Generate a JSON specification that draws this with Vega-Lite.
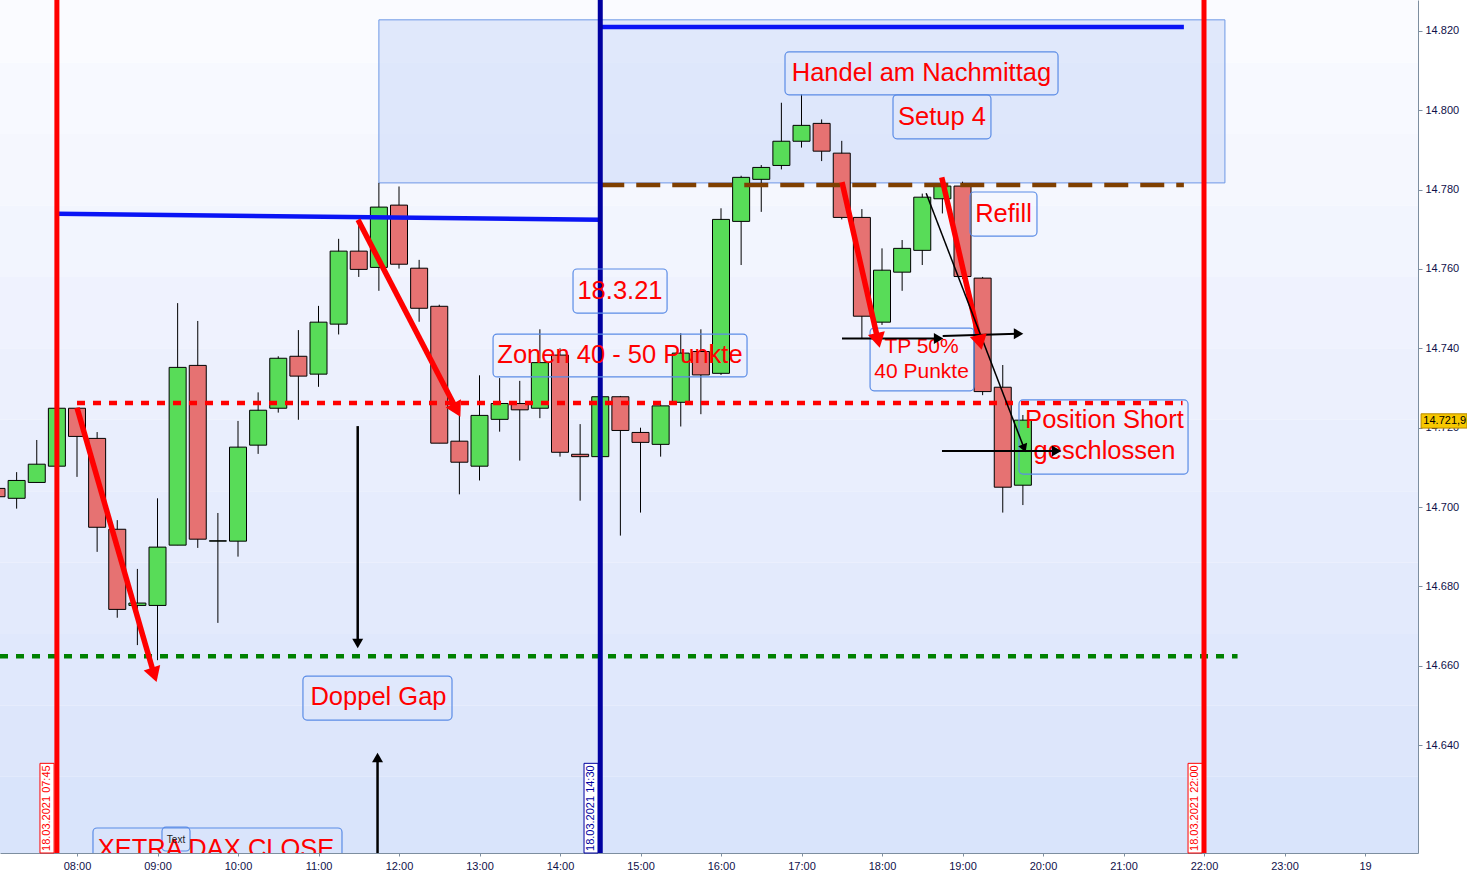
{
  "$schema": "https://vega.github.io/schema/vega-lite/v6.json",
  "width": 1418,
  "height": 853,
  "autosize": {"type": "none"},
  "padding": {"left": 0, "top": 0, "right": 49, "bottom": 27},
  "background": "white",
  "config": {"font": "Liberation Sans", "view": {"stroke": null}},
  "datasets": {
    "candles": [
      {"t": "2021-03-18T07:00:00", "o": 14704.7, "h": 14705.0, "l": 14702.4, "c": 14702.6},
      {"t": "2021-03-18T07:15:00", "o": 14702.2, "h": 14708.8, "l": 14699.6, "c": 14706.7},
      {"t": "2021-03-18T07:30:00", "o": 14706.2, "h": 14716.9, "l": 14706.2, "c": 14710.8},
      {"t": "2021-03-18T07:45:00", "o": 14710.3, "h": 14725.0, "l": 14710.0, "c": 14724.9},
      {"t": "2021-03-18T08:00:00", "o": 14724.9, "h": 14725.0, "l": 14707.6, "c": 14717.8},
      {"t": "2021-03-18T08:15:00", "o": 14717.3, "h": 14718.9, "l": 14688.7, "c": 14694.9},
      {"t": "2021-03-18T08:30:00", "o": 14694.4, "h": 14696.7, "l": 14672.1, "c": 14674.2},
      {"t": "2021-03-18T08:45:00", "o": 14675.2, "h": 14684.4, "l": 14665.2, "c": 14675.8},
      {"t": "2021-03-18T09:00:00", "o": 14675.2, "h": 14702.2, "l": 14661.4, "c": 14689.9},
      {"t": "2021-03-18T09:15:00", "o": 14690.4, "h": 14751.4, "l": 14690.4, "c": 14735.2},
      {"t": "2021-03-18T09:30:00", "o": 14735.7, "h": 14746.9, "l": 14689.7, "c": 14691.9},
      {"t": "2021-03-18T09:45:00", "o": 14691.4, "h": 14698.5, "l": 14670.8, "c": 14691.5},
      {"t": "2021-03-18T10:00:00", "o": 14691.4, "h": 14721.7, "l": 14687.5, "c": 14715.1},
      {"t": "2021-03-18T10:15:00", "o": 14715.6, "h": 14728.9, "l": 14713.4, "c": 14724.4},
      {"t": "2021-03-18T10:30:00", "o": 14724.9, "h": 14738.0, "l": 14723.8, "c": 14737.5},
      {"t": "2021-03-18T10:45:00", "o": 14738.0, "h": 14744.6, "l": 14722.0, "c": 14733.0},
      {"t": "2021-03-18T11:00:00", "o": 14733.5, "h": 14750.7, "l": 14730.3, "c": 14746.6},
      {"t": "2021-03-18T11:15:00", "o": 14746.1, "h": 14767.6, "l": 14743.5, "c": 14764.5},
      {"t": "2021-03-18T11:30:00", "o": 14764.5, "h": 14772.4, "l": 14758.0, "c": 14759.9},
      {"t": "2021-03-18T11:45:00", "o": 14760.4, "h": 14781.7, "l": 14754.5, "c": 14775.6},
      {"t": "2021-03-18T12:00:00", "o": 14776.1, "h": 14780.8, "l": 14760.1, "c": 14761.2},
      {"t": "2021-03-18T12:15:00", "o": 14760.2, "h": 14762.3, "l": 14746.7, "c": 14750.1},
      {"t": "2021-03-18T12:30:00", "o": 14750.6, "h": 14751.0, "l": 14716.1, "c": 14716.1},
      {"t": "2021-03-18T12:45:00", "o": 14716.6, "h": 14723.2, "l": 14703.2, "c": 14711.3},
      {"t": "2021-03-18T13:00:00", "o": 14710.3, "h": 14733.2, "l": 14706.7, "c": 14723.1},
      {"t": "2021-03-18T13:15:00", "o": 14722.1, "h": 14732.5, "l": 14719.0, "c": 14726.1},
      {"t": "2021-03-18T13:30:00", "o": 14726.1, "h": 14731.8, "l": 14711.7, "c": 14724.5},
      {"t": "2021-03-18T13:45:00", "o": 14724.9, "h": 14744.8, "l": 14722.4, "c": 14736.4},
      {"t": "2021-03-18T14:00:00", "o": 14738.3, "h": 14740.0, "l": 14712.7, "c": 14713.8},
      {"t": "2021-03-18T14:15:00", "o": 14713.3, "h": 14720.9, "l": 14701.6, "c": 14712.7},
      {"t": "2021-03-18T14:30:00", "o": 14712.7, "h": 14729.0, "l": 14711.0, "c": 14727.8},
      {"t": "2021-03-18T14:45:00", "o": 14727.8, "h": 14728.0, "l": 14692.8, "c": 14719.3},
      {"t": "2021-03-18T15:00:00", "o": 14718.8, "h": 14720.0, "l": 14698.6, "c": 14716.3},
      {"t": "2021-03-18T15:15:00", "o": 14715.8, "h": 14726.0, "l": 14712.7, "c": 14725.5},
      {"t": "2021-03-18T15:30:00", "o": 14726.4, "h": 14743.8, "l": 14720.3, "c": 14738.8},
      {"t": "2021-03-18T15:45:00", "o": 14739.2, "h": 14744.8, "l": 14723.4, "c": 14733.3},
      {"t": "2021-03-18T16:00:00", "o": 14733.7, "h": 14775.3, "l": 14733.3, "c": 14772.5},
      {"t": "2021-03-18T16:15:00", "o": 14772.0, "h": 14783.5, "l": 14761.0, "c": 14783.1},
      {"t": "2021-03-18T16:30:00", "o": 14782.6, "h": 14786.2, "l": 14774.4, "c": 14785.6},
      {"t": "2021-03-18T16:45:00", "o": 14786.1, "h": 14801.9, "l": 14785.1, "c": 14792.2},
      {"t": "2021-03-18T17:00:00", "o": 14792.2, "h": 14804.0, "l": 14790.6, "c": 14796.2},
      {"t": "2021-03-18T17:15:00", "o": 14796.7, "h": 14797.7, "l": 14787.2, "c": 14789.7},
      {"t": "2021-03-18T17:30:00", "o": 14789.2, "h": 14792.3, "l": 14772.5, "c": 14773.0},
      {"t": "2021-03-18T17:45:00", "o": 14773.0, "h": 14775.1, "l": 14742.5, "c": 14748.1},
      {"t": "2021-03-18T18:00:00", "o": 14746.6, "h": 14765.2, "l": 14745.9, "c": 14759.7},
      {"t": "2021-03-18T18:15:00", "o": 14759.2, "h": 14767.3, "l": 14754.5, "c": 14765.2},
      {"t": "2021-03-18T18:30:00", "o": 14764.7, "h": 14779.0, "l": 14761.0, "c": 14778.1},
      {"t": "2021-03-18T18:45:00", "o": 14777.7, "h": 14782.4, "l": 14774.0, "c": 14780.9},
      {"t": "2021-03-18T19:00:00", "o": 14780.9, "h": 14782.0, "l": 14757.5, "c": 14758.1},
      {"t": "2021-03-18T19:15:00", "o": 14757.7, "h": 14758.0, "l": 14728.2, "c": 14729.1},
      {"t": "2021-03-18T19:30:00", "o": 14730.2, "h": 14735.8, "l": 14698.6, "c": 14705.0},
      {"t": "2021-03-18T19:45:00", "o": 14705.5, "h": 14723.2, "l": 14700.5, "c": 14721.9}
    ],
    "backdrop": [
      {"t": "2021-03-18T07:00:00", "t2": "2021-03-19T00:40:00", "p": 14830, "p2": 14812},
      {"t": "2021-03-18T07:00:00", "t2": "2021-03-19T00:40:00", "p": 14812, "p2": 14794},
      {"t": "2021-03-18T07:00:00", "t2": "2021-03-19T00:40:00", "p": 14794, "p2": 14776},
      {"t": "2021-03-18T07:00:00", "t2": "2021-03-19T00:40:00", "p": 14776, "p2": 14758},
      {"t": "2021-03-18T07:00:00", "t2": "2021-03-19T00:40:00", "p": 14758, "p2": 14740},
      {"t": "2021-03-18T07:00:00", "t2": "2021-03-19T00:40:00", "p": 14740, "p2": 14722},
      {"t": "2021-03-18T07:00:00", "t2": "2021-03-19T00:40:00", "p": 14722, "p2": 14704},
      {"t": "2021-03-18T07:00:00", "t2": "2021-03-19T00:40:00", "p": 14704, "p2": 14686},
      {"t": "2021-03-18T07:00:00", "t2": "2021-03-19T00:40:00", "p": 14686, "p2": 14668},
      {"t": "2021-03-18T07:00:00", "t2": "2021-03-19T00:40:00", "p": 14668, "p2": 14650},
      {"t": "2021-03-18T07:00:00", "t2": "2021-03-19T00:40:00", "p": 14650, "p2": 14632},
      {"t": "2021-03-18T07:00:00", "t2": "2021-03-19T00:40:00", "p": 14632, "p2": 14612.8}
    ],
    "zone": [
      {"t": "2021-03-18T11:45:00", "t2": "2021-03-18T22:15:36", "p": 14822.8, "p2": 14781.7}
    ],
    "lines": [
      {"t": "2021-03-18T07:45:00", "p": 14773.9, "t2": "2021-03-18T14:30:00", "p2": 14772.4, "k": "blue"},
      {"t": "2021-03-18T14:30:00", "p": 14821.0, "t2": "2021-03-18T21:45:00", "p2": 14821.0, "k": "blue"},
      {"t": "2021-03-18T14:30:00", "p": 14781.2, "t2": "2021-03-18T21:45:00", "p2": 14781.2, "k": "brown"},
      {"t": "2021-03-18T08:00:00", "p": 14726.2, "t2": "2021-03-18T21:44:00", "p2": 14726.2, "k": "red"},
      {"t": "2021-03-18T07:02:36", "p": 14662.4, "t2": "2021-03-18T22:25:00", "p2": 14662.4, "k": "green"}
    ],
    "vlines": [
      {"t": "2021-03-18T07:45:00", "p": 14600, "p2": 14840, "k": "red"},
      {"t": "2021-03-18T14:30:00", "p": 14600, "p2": 14840, "k": "navy"},
      {"t": "2021-03-18T22:00:00", "p": 14600, "p2": 14840, "k": "red"}
    ],
    "dateboxes": [
      {"t": "2021-03-18T07:32:24", "t2": "2021-03-18T07:42:54", "p": 14635.4, "p2": 14612.8, "tc": "2021-03-18T07:37:39", "pc": 14624.1, "label": "18.03.2021 07:45", "k": "red"},
      {"t": "2021-03-18T14:17:54", "t2": "2021-03-18T14:28:18", "p": 14635.4, "p2": 14612.8, "tc": "2021-03-18T14:23:06", "pc": 14624.1, "label": "18.03.2021 14:30", "k": "navy"},
      {"t": "2021-03-18T21:48:06", "t2": "2021-03-18T21:58:30", "p": 14635.4, "p2": 14612.8, "tc": "2021-03-18T21:53:18", "pc": 14624.1, "label": "18.03.2021 22:00", "k": "red"}
    ],
    "noteboxes": [
      {"name": "Handel", "t": "2021-03-18T16:47:42", "t2": "2021-03-18T20:11:12", "p": 14814.7, "p2": 14803.9},
      {"name": "Setup", "t": "2021-03-18T18:08:12", "t2": "2021-03-18T19:21:12", "p": 14803.9, "p2": 14792.8},
      {"name": "Refill", "t": "2021-03-18T19:05:36", "t2": "2021-03-18T19:55:30", "p": 14779.4, "p2": 14768.3},
      {"name": "Datum", "t": "2021-03-18T14:09:42", "t2": "2021-03-18T15:19:48", "p": 14760.0, "p2": 14748.9},
      {"name": "Zonen", "t": "2021-03-18T13:10:06", "t2": "2021-03-18T16:19:24", "p": 14743.6, "p2": 14732.8},
      {"name": "TP", "t": "2021-03-18T17:51:06", "t2": "2021-03-18T19:08:36", "p": 14745.1, "p2": 14729.3},
      {"name": "Position", "t": "2021-03-18T19:42:06", "t2": "2021-03-18T21:48:06", "p": 14727.0, "p2": 14708.3},
      {"name": "Doppel", "t": "2021-03-18T10:48:24", "t2": "2021-03-18T12:39:30", "p": 14657.4, "p2": 14646.3},
      {"name": "Xetra", "t": "2021-03-18T08:11:54", "t2": "2021-03-18T11:17:30", "p": 14619.1, "p2": 14605.0},
      {"name": "Text", "t": "2021-03-18T09:03:20", "t2": "2021-03-18T09:24:13", "p": 14619.3, "p2": 14613.3}
    ],
    "notes": [
      {"t": "2021-03-18T18:29:24", "p": 14809.3, "text": "Handel am Nachmittag"},
      {"t": "2021-03-18T18:44:42", "p": 14798.3, "text": "Setup 4"},
      {"t": "2021-03-18T19:30:32", "p": 14773.9, "text": "Refill"},
      {"t": "2021-03-18T14:44:42", "p": 14754.5, "text": "18.3.21"},
      {"t": "2021-03-18T14:44:42", "p": 14738.3, "text": "Zonen 40 - 50 Punkte"},
      {"t": "2021-03-18T20:45:50", "p": 14721.9, "text": "Position Short"},
      {"t": "2021-03-18T20:45:50", "p": 14714.1, "text": "geschlossen"},
      {"t": "2021-03-18T11:44:42", "p": 14652.1, "text": "Doppel Gap"}
    ],
    "arrows": [
      {"id": "a", "t": "2021-03-18T08:00:00", "p": 14725.0, "t2": "2021-03-18T08:57:00", "p2": 14658.3},
      {"id": "b", "t": "2021-03-18T11:29:28", "p": 14772.4, "t2": "2021-03-18T12:42:14", "p2": 14725.0},
      {"id": "c", "t": "2021-03-18T17:30:11", "p": 14781.9, "t2": "2021-03-18T17:56:38", "p2": 14742.6},
      {"id": "d", "t": "2021-03-18T18:44:31", "p": 14783.1, "t2": "2021-03-18T19:12:36", "p2": 14742.1},
      {"id": "e", "t": "2021-03-18T11:29:13", "p": 14720.4, "t2": "2021-03-18T11:29:13", "p2": 14666.0},
      {"id": "f", "t": "2021-03-18T11:44:00", "p": 14612.8, "t2": "2021-03-18T11:44:00", "p2": 14636.5},
      {"id": "g", "t": "2021-03-18T17:30:11", "p": 14742.5, "t2": "2021-03-18T18:41:00", "p2": 14742.5},
      {"id": "h", "t": "2021-03-18T18:45:14", "p": 14743.1, "t2": "2021-03-18T19:40:37", "p2": 14743.7},
      {"id": "i", "t": "2021-03-18T18:44:42", "p": 14714.1, "t2": "2021-03-18T20:08:57", "p2": 14714.1},
      {"id": "j", "t": "2021-03-18T18:32:56", "p": 14779.1, "t2": "2021-03-18T19:45:36", "p2": 14715.1}
    ],
    "tag": [
      {"t": "2021-03-19T00:41:48", "t2": "2021-03-19T01:16:00", "p": 14723.5, "p2": 14719.9, "tt": "2021-03-19T00:43:30", "pt": 14721.7, "label": "14.721,9"}
    ]
  },
  "encoding": {
    "x": {
      "field": "t", "type": "temporal",
      "scale": {"padding": 0, "domain": [
        {"year": 2021, "month": 3, "date": 18, "hours": 7, "minutes": 2, "seconds": 36},
        {"year": 2021, "month": 3, "date": 19, "hours": 0, "minutes": 39, "seconds": 30}
      ]},
      "axis": {
        "title": null, "grid": false, "format": "%H:%M",
        "values": [
          {"year": 2021, "month": 3, "date": 18, "hours": 7},
          {"year": 2021, "month": 3, "date": 18, "hours": 8},
          {"year": 2021, "month": 3, "date": 18, "hours": 9},
          {"year": 2021, "month": 3, "date": 18, "hours": 10},
          {"year": 2021, "month": 3, "date": 18, "hours": 11},
          {"year": 2021, "month": 3, "date": 18, "hours": 12},
          {"year": 2021, "month": 3, "date": 18, "hours": 13},
          {"year": 2021, "month": 3, "date": 18, "hours": 14},
          {"year": 2021, "month": 3, "date": 18, "hours": 15},
          {"year": 2021, "month": 3, "date": 18, "hours": 16},
          {"year": 2021, "month": 3, "date": 18, "hours": 17},
          {"year": 2021, "month": 3, "date": 18, "hours": 18},
          {"year": 2021, "month": 3, "date": 18, "hours": 19},
          {"year": 2021, "month": 3, "date": 18, "hours": 20},
          {"year": 2021, "month": 3, "date": 18, "hours": 21},
          {"year": 2021, "month": 3, "date": 18, "hours": 22},
          {"year": 2021, "month": 3, "date": 18, "hours": 23},
          {"year": 2021, "month": 3, "date": 19, "hours": 0}
        ],
        "labelExpr": "datum.label === '00:00' ? '19' : datum.label",
        "labelFlush": false, "labelOverlap": false,
        "labelFontSize": 11, "labelColor": "#10104a", "labelPadding": 4,
        "domainColor": "#7d8ea0", "tickColor": "#7d8ea0", "tickSize": 3
      }
    },
    "y": {
      "field": "p", "type": "quantitative",
      "scale": {"domain": [14612.8, 14827.8], "nice": false, "zero": false},
      "axis": {
        "orient": "right", "title": null, "grid": false,
        "values": [14640, 14660, 14680, 14700, 14720, 14740, 14760, 14780, 14800, 14820],
        "format": ",d",
        "labelExpr": "replace(datum.label, ',', '.')",
        "labelFontSize": 11, "labelColor": "#10104a", "labelPadding": 3,
        "domainColor": "#7d8ea0", "tickColor": "#7d8ea0", "tickSize": 4
      }
    }
  },
  "layer": [
    {
      "data": {"name": "backdrop"},
      "mark": {"type": "rect", "clip": true},
      "encoding": {
        "x2": {"field": "t2"}, "y2": {"field": "p2"},
        "fill": {"field": "p", "type": "quantitative", "legend": null,
          "scale": {"domain": [14630, 14830], "range": ["#d9e4fb", "#fafbff"]}}
      }
    },
    {
      "data": {"name": "zone"},
      "mark": {"type": "rect", "fill": "#c6d6f8", "fillOpacity": 0.5, "stroke": "#6e98e6", "strokeWidth": 1},
      "encoding": {"x2": {"field": "t2"}, "y2": {"field": "p2"}}
    },
    {
      "data": {"name": "candles"},
      "mark": {"type": "rule", "color": "black", "strokeWidth": 1, "clip": true},
      "encoding": {"y": {"field": "l", "type": "quantitative"}, "y2": {"field": "h"}}
    },
    {
      "data": {"name": "candles"},
      "transform": [{"filter": "datum.c >= datum.o"}],
      "mark": {"type": "bar", "width": 17, "stroke": "black", "strokeWidth": 1, "fill": "#58dc58", "clip": true},
      "encoding": {"y": {"field": "o", "type": "quantitative"}, "y2": {"field": "c"}}
    },
    {
      "data": {"name": "candles"},
      "transform": [{"filter": "datum.c < datum.o"}],
      "mark": {"type": "bar", "width": 17, "stroke": "black", "strokeWidth": 1, "fill": "#e67272", "clip": true},
      "encoding": {"y": {"field": "o", "type": "quantitative"}, "y2": {"field": "c"}}
    },
    {
      "data": {"name": "lines"},
      "transform": [{"filter": "datum.k === 'blue'"}],
      "mark": {"type": "rule", "strokeWidth": 4.5, "color": "#0a14f5"},
      "encoding": {"x2": {"field": "t2"}, "y2": {"field": "p2"}}
    },
    {
      "data": {"name": "lines"},
      "transform": [{"filter": "datum.k === 'brown'"}],
      "mark": {"type": "rule", "strokeWidth": 4.5, "color": "#7f3f00", "strokeDash": [24, 12]},
      "encoding": {"x2": {"field": "t2"}, "y2": {"field": "p2"}}
    },
    {
      "data": {"name": "lines"},
      "transform": [{"filter": "datum.k === 'red'"}],
      "mark": {"type": "rule", "strokeWidth": 4.5, "color": "#ff0000", "strokeDash": [8, 8]},
      "encoding": {"x2": {"field": "t2"}, "y2": {"field": "p2"}}
    },
    {
      "data": {"name": "lines"},
      "transform": [{"filter": "datum.k === 'green'"}],
      "mark": {"type": "rule", "strokeWidth": 4.5, "color": "#008000", "strokeDash": [8, 8]},
      "encoding": {"x2": {"field": "t2"}, "y2": {"field": "p2"}}
    },
    {
      "data": {"name": "vlines"},
      "transform": [{"filter": "datum.k === 'red'"}],
      "mark": {"type": "rule", "strokeWidth": 5, "clip": true, "color": "#ff0000"},
      "encoding": {"y2": {"field": "p2"}}
    },
    {
      "data": {"name": "vlines"},
      "transform": [{"filter": "datum.k === 'navy'"}],
      "mark": {"type": "rule", "strokeWidth": 5, "clip": true, "color": "#0000a0"},
      "encoding": {"y2": {"field": "p2"}}
    },
    {
      "data": {"name": "dateboxes"},
      "transform": [{"filter": "datum.k === 'red'"}],
      "mark": {"type": "rect", "fill": "white", "stroke": "#ff0000", "strokeWidth": 1},
      "encoding": {"x2": {"field": "t2"}, "y2": {"field": "p2"}}
    },
    {
      "data": {"name": "dateboxes"},
      "transform": [{"filter": "datum.k === 'navy'"}],
      "mark": {"type": "rect", "fill": "white", "stroke": "#0000a0", "strokeWidth": 1},
      "encoding": {"x2": {"field": "t2"}, "y2": {"field": "p2"}}
    },
    {
      "data": {"name": "dateboxes"},
      "transform": [{"filter": "datum.k === 'red'"}],
      "mark": {"type": "text", "angle": 270, "fontSize": 11, "align": "center", "baseline": "middle", "color": "#ff0000"},
      "encoding": {
        "x": {"field": "tc", "type": "temporal"},
        "y": {"field": "pc", "type": "quantitative"},
        "text": {"field": "label"}
      }
    },
    {
      "data": {"name": "dateboxes"},
      "transform": [{"filter": "datum.k === 'navy'"}],
      "mark": {"type": "text", "angle": 270, "fontSize": 11, "align": "center", "baseline": "middle", "color": "#0000a0"},
      "encoding": {
        "x": {"field": "tc", "type": "temporal"},
        "y": {"field": "pc", "type": "quantitative"},
        "text": {"field": "label"}
      }
    },
    {
      "data": {"name": "noteboxes"},
      "mark": {"type": "rect", "filled": false, "color": "#5b8ce6", "strokeWidth": 1.2, "cornerRadius": 4, "clip": true},
      "encoding": {"x2": {"field": "t2"}, "y2": {"field": "p2"}}
    },
    {
      "data": {"name": "notes"},
      "mark": {"type": "text", "fontSize": 25.5, "color": "#ff0000", "align": "center", "baseline": "middle"},
      "encoding": {"text": {"field": "text"}}
    },
    {
      "data": {"values": [{"t": "2021-03-18T09:43:36", "p": 14613.8, "text": "XETRA DAX CLOSE"}]},
      "mark": {"type": "text", "fontSize": 25.5, "color": "#ff0000", "align": "center", "baseline": "middle", "clip": true},
      "encoding": {"text": {"field": "text"}}
    },
    {
      "data": {"values": [
        {"t": "2021-03-18T18:29:28", "p": 14740.3, "text": "TP 50%"},
        {"t": "2021-03-18T18:29:28", "p": 14734.0, "text": "40 Punkte"}
      ]},
      "mark": {"type": "text", "fontSize": 21, "color": "#ff0000", "align": "center", "baseline": "middle"},
      "encoding": {"text": {"field": "text"}}
    },
    {
      "data": {"values": [{"t": "2021-03-18T09:13:47", "p": 14616.1, "text": "Text"}]},
      "mark": {"type": "text", "fontSize": 10, "color": "#222222", "align": "center", "baseline": "middle"},
      "encoding": {"text": {"field": "text"}}
    },
    {
      "data": {"name": "arrows"},
      "transform": [{"filter": "indexof(['a', 'b', 'c', 'd'], datum.id) >= 0"}],
      "mark": {"type": "rule", "color": "#ff0000", "strokeWidth": 5.5},
      "encoding": {"x2": {"field": "t2"}, "y2": {"field": "p2"}}
    },
    {
      "data": {"name": "arrows"},
      "transform": [{"filter": "indexof(['e', 'f'], datum.id) >= 0"}],
      "mark": {"type": "rule", "color": "black", "strokeWidth": 2.5},
      "encoding": {"x2": {"field": "t2"}, "y2": {"field": "p2"}}
    },
    {
      "data": {"name": "arrows"},
      "transform": [{"filter": "indexof(['g', 'h', 'i'], datum.id) >= 0"}],
      "mark": {"type": "rule", "color": "black", "strokeWidth": 2},
      "encoding": {"x2": {"field": "t2"}, "y2": {"field": "p2"}}
    },
    {
      "data": {"name": "arrows"},
      "transform": [{"filter": "datum.id === 'j'"}],
      "mark": {"type": "rule", "color": "black", "strokeWidth": 1.5},
      "encoding": {"x2": {"field": "t2"}, "y2": {"field": "p2"}}
    },
    {
      "data": {"name": "arrows"},
      "transform": [{"filter": "datum.id === 'a'"}],
      "mark": {"type": "point", "shape": "triangle", "filled": true, "color": "#ff0000", "opacity": 1, "size": 300, "angle": 162},
      "encoding": {"x": {"field": "t2", "type": "temporal"}, "y": {"field": "p2", "type": "quantitative"}}
    },
    {
      "data": {"name": "arrows"},
      "transform": [{"filter": "datum.id === 'b'"}],
      "mark": {"type": "point", "shape": "triangle", "filled": true, "color": "#ff0000", "opacity": 1, "size": 300, "angle": 152},
      "encoding": {"x": {"field": "t2", "type": "temporal"}, "y": {"field": "p2", "type": "quantitative"}}
    },
    {
      "data": {"name": "arrows"},
      "transform": [{"filter": "indexof(['c', 'd'], datum.id) >= 0"}],
      "mark": {"type": "point", "shape": "triangle", "filled": true, "color": "#ff0000", "opacity": 1, "size": 300, "angle": 167},
      "encoding": {"x": {"field": "t2", "type": "temporal"}, "y": {"field": "p2", "type": "quantitative"}}
    },
    {
      "data": {"name": "arrows"},
      "transform": [{"filter": "datum.id === 'e'"}],
      "mark": {"type": "point", "shape": "triangle", "filled": true, "color": "black", "opacity": 1, "size": 120, "angle": 180},
      "encoding": {"x": {"field": "t2", "type": "temporal"}, "y": {"field": "p2", "type": "quantitative"}}
    },
    {
      "data": {"name": "arrows"},
      "transform": [{"filter": "datum.id === 'f'"}],
      "mark": {"type": "point", "shape": "triangle", "filled": true, "color": "black", "opacity": 1, "size": 120, "angle": 0},
      "encoding": {"x": {"field": "t2", "type": "temporal"}, "y": {"field": "p2", "type": "quantitative"}}
    },
    {
      "data": {"name": "arrows"},
      "transform": [{"filter": "indexof(['g', 'h', 'i'], datum.id) >= 0"}],
      "mark": {"type": "point", "shape": "triangle", "filled": true, "color": "black", "opacity": 1, "size": 120, "angle": 90},
      "encoding": {"x": {"field": "t2", "type": "temporal"}, "y": {"field": "p2", "type": "quantitative"}}
    },
    {
      "data": {"name": "arrows"},
      "transform": [{"filter": "datum.id === 'j'"}],
      "mark": {"type": "point", "shape": "triangle", "filled": true, "color": "black", "opacity": 1, "size": 90, "angle": 159},
      "encoding": {"x": {"field": "t2", "type": "temporal"}, "y": {"field": "p2", "type": "quantitative"}}
    },
    {
      "data": {"name": "tag"},
      "mark": {"type": "rect", "fill": "#f7c800", "stroke": "#b88a00", "strokeWidth": 1},
      "encoding": {"x2": {"field": "t2"}, "y2": {"field": "p2"}}
    },
    {
      "data": {"name": "tag"},
      "mark": {"type": "text", "fontSize": 11, "color": "black", "align": "left", "baseline": "middle"},
      "encoding": {
        "x": {"field": "tt", "type": "temporal"},
        "y": {"field": "pt", "type": "quantitative"},
        "text": {"field": "label"}
      }
    }
  ]
}
